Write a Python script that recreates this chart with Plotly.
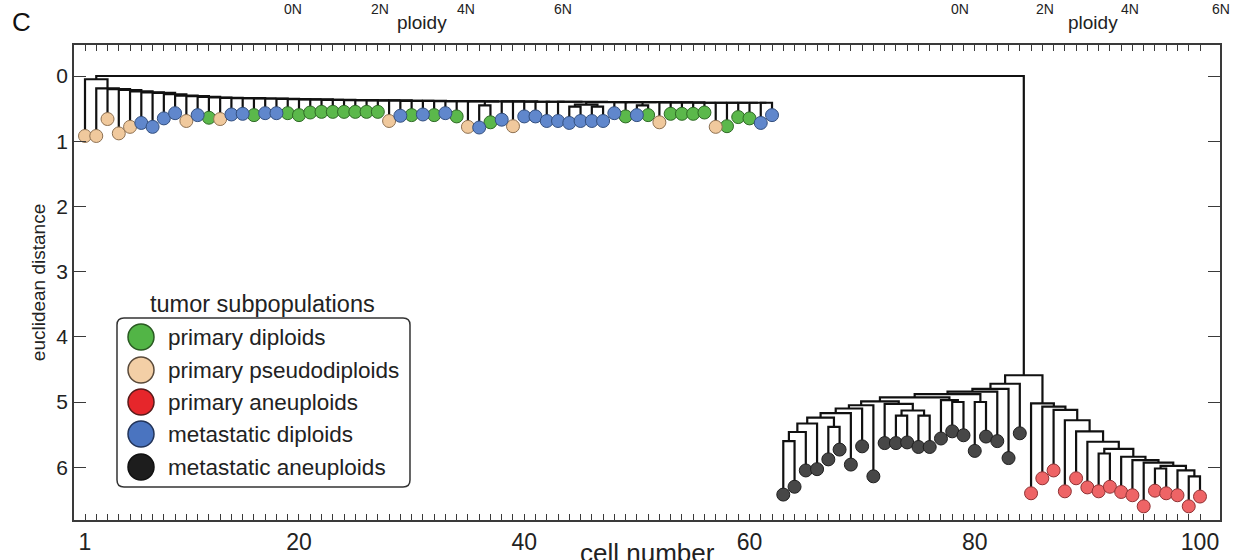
import plotly.graph_objects as go

# ---------------------------------------------------------------- data ----
CELLS = list(range(1, 101))

# height of every leaf (cell) on the euclidean distance axis
LEAF_HEIGHT = [
    0.92, 0.92, 0.66, 0.88, 0.78, 0.72, 0.78, 0.65, 0.57, 0.69,   # 1-10
    0.60, 0.64, 0.66, 0.59, 0.58, 0.60, 0.57, 0.57, 0.57, 0.60,   # 11-20
    0.56, 0.55, 0.55, 0.55, 0.55, 0.55, 0.55, 0.69, 0.61, 0.60,   # 21-30
    0.59, 0.60, 0.57, 0.62, 0.78, 0.79, 0.71, 0.67, 0.77, 0.62,   # 31-40
    0.62, 0.69, 0.69, 0.72, 0.69, 0.69, 0.69, 0.57, 0.62, 0.60,   # 41-50
    0.60, 0.71, 0.58, 0.58, 0.58, 0.56, 0.78, 0.77, 0.63, 0.65,   # 51-60
    0.72, 0.60, 6.42, 6.30, 6.05, 6.03, 5.88, 5.73, 5.96, 5.68,   # 61-70
    6.14, 5.63, 5.63, 5.62, 5.69, 5.69, 5.56, 5.45, 5.51, 5.75,   # 71-80
    5.53, 5.60, 5.86, 5.48, 6.40, 6.17, 6.05, 6.37, 6.17, 6.31,   # 81-90
    6.37, 6.30, 6.38, 6.43, 6.60, 6.36, 6.40, 6.43, 6.60, 6.45,   # 91-100
]

# subpopulation of every cell: g primary diploid, t primary pseudodiploid,
# r primary aneuploid, b metastatic diploid, k metastatic aneuploid
LEAF_GROUP = list(
    "tttttbbbbt" "bgtbbgbbgg" "gggggggtbg" "bgbgtbgbtb" "bbbbbbbbgb"
    "gtggggtggg" "bb" "kkkkkkkkkkkkkkkkkkkkkk" "rrrrrrrrrrrrrrrr"
)

GROUP_KEYS = ["g", "t", "r", "b", "k"]
GROUP_NAMES = ["primary diploids", "primary pseudodiploids", "primary aneuploids",
               "metastatic diploids", "metastatic aneuploids"]
LEAF_FILL = {"g": "#5bb84b", "t": "#f0c99d", "r": "#ee6466", "b": "#6087cc", "k": "#474747"}
LEAF_EDGE = {"g": "#2f6a26", "t": "#8e7152", "r": "#8f3234", "b": "#34507f", "k": "#1f1f1f"}
LEGEND_FILL = {"g": "#52b546", "t": "#f3cfa6", "r": "#e6262b", "b": "#4a74c0", "k": "#1d1d1d"}
LEGEND_EDGE = {"g": "#2a5a22", "t": "#5a4a3a", "r": "#5a1a1a", "b": "#22345a", "k": "#111111"}

# small sub-clusters: (name, left, right, merge height)
SUBCLUSTERS = [
    ("p36", 36, 37, 0.45),
    ("p44", 44, 45, 0.47),
    ("p46", 46, 47, 0.47),
    ("q44", "p44", "p46", 0.44),
    ("p50", 50, 51, 0.45),
    ("p91", 91, 92, 5.79),
    ("p96", 96, 97, 6.02),
    ("p67", 67, 68, 5.38),
    ("s73", 73, 74, 5.21),
    ("s75", 75, 76, 5.21),
    ("r73", "s73", "s75", 5.13),
    ("m72", 72, "r73", 5.03),
    ("p78", 78, 79, 5.00),
    ("q77", 77, "p78", 4.97),
    ("p80", 80, 81, 5.00),
]

# diploid branch: each member joins everything to its right
DIPLOID_MEMBERS = list(range(1, 36)) + ["p36", 38, 39, 40, 41, 42, 43, "q44", 48, 49, "p50"] \
    + list(range(52, 63))
DIPLOID_HEIGHTS = [
    0.05, 0.19, 0.20, 0.215, 0.235, 0.25, 0.26, 0.28, 0.30, 0.31,
    0.32, 0.33, 0.335, 0.34, 0.34, 0.345, 0.345, 0.35, 0.355, 0.36,
    0.36, 0.365, 0.365, 0.37, 0.37, 0.375, 0.375, 0.375, 0.38, 0.38,
    0.38, 0.385, 0.385, 0.385, 0.39, 0.39, 0.39, 0.39, 0.395, 0.395,
    0.395, 0.395, 0.40, 0.40, 0.40, 0.40, 0.405, 0.405, 0.405, 0.41,
    0.41, 0.41, 0.41, 0.41, 0.41, 0.41,
]

# metastatic aneuploid branch: each member joins everything to its left
META_MEMBERS = [63, 64, 65, 66, "p67", 69, 70, 71, "m72", "q77", "p80", 82, 83, 84]
META_HEIGHTS = [5.60, 5.46, 5.33, 5.24, 5.17, 5.10, 5.05, 4.99, 4.93, 4.88, 4.84, 4.80, 4.72]

# primary aneuploid branch: each member joins everything to its right
PRIMARY_MEMBERS = [85, 86, 87, 88, 89, 90, "p91", 93, 94, 95, "p96", 98, 99, 100]
PRIMARY_HEIGHTS = [5.02, 5.07, 5.12, 5.28, 5.45, 5.61, 5.72, 5.84, 5.89, 5.93, 5.98, 6.05, 6.14]

ANEUPLOID_JOIN = 4.59
ROOT_JOIN = 0.0

X_TICKS = [1, 20, 40, 60, 80, 100]
Y_TICKS = [0, 1, 2, 3, 4, 5, 6]

# ------------------------------------------------------- tree geometry ----
nodes = {}
seg_x, seg_y = [], []


def position(item):
    if isinstance(item, int):
        return float(item), LEAF_HEIGHT[item - 1]
    return nodes[item]


def join(name, a, b, h):
    xa, ya = position(a)
    xb, yb = position(b)
    seg_x.extend([xa, xa, xb, xb, None])
    seg_y.extend([ya, h, h, yb, None])
    nodes[name] = ((xa + xb) / 2.0, h)
    return name


for name, a, b, h in SUBCLUSTERS:
    join(name, a, b, h)


def right_nested(prefix, members, heights):
    cur = members[-1]
    for i in range(len(members) - 2, -1, -1):
        cur = join(f"{prefix}{i}", members[i], cur, heights[i])
    return cur


def left_nested(prefix, members, heights):
    cur = members[0]
    for i in range(1, len(members)):
        cur = join(f"{prefix}{i}", cur, members[i], heights[i - 1])
    return cur


diploid_top = right_nested("d", DIPLOID_MEMBERS, DIPLOID_HEIGHTS)
meta_top = left_nested("m", META_MEMBERS, META_HEIGHTS)
primary_top = right_nested("a", PRIMARY_MEMBERS, PRIMARY_HEIGHTS)
aneu_top = join("aneuploid", meta_top, primary_top, ANEUPLOID_JOIN)
join("root", diploid_top, aneu_top, ROOT_JOIN)

# --------------------------------------------------------------- figure ----
fig = go.Figure()

fig.add_trace(go.Scatter(
    x=seg_x, y=seg_y, mode="lines",
    line=dict(color="#111111", width=2.2),
    hoverinfo="skip", showlegend=False,
))

for key, gname in zip(GROUP_KEYS, GROUP_NAMES):
    xs = [c for c, g in zip(CELLS, LEAF_GROUP) if g == key]
    ys = [LEAF_HEIGHT[c - 1] for c in xs]
    fig.add_trace(go.Scatter(
        x=xs, y=ys, mode="markers", name=gname,
        marker=dict(size=13, color=LEAF_FILL[key],
                    line=dict(color=LEAF_EDGE[key], width=1)),
        showlegend=False,
    ))

# plot-area placement (pixels) used for decorations outside the data
L, R, T, B = 74, 1220, 45, 520
W, H = 1240, 560


def px(xp, yp):
    return (xp - L) / (R - L), (B - yp) / (B - T)


FONT = "Liberation Sans, Arial, sans-serif"
AX = "#3a3a3a"

annotations = []
shapes = []


def label(text, xp, yp, size, xanchor="center", color="#222"):
    tx, ty = px(xp, yp)
    annotations.append(dict(text=text, x=tx, y=ty, xref="paper", yref="paper",
                            showarrow=False, xanchor=xanchor, yanchor="middle",
                            font=dict(family=FONT, size=size, color=color)))


# legend box with rounded corners
lx0, ly0, lx1, ly1, rad = 117, 318, 410, 487, 7


def P(xp, yp):
    a, b = px(xp, yp)
    return f"{a:.5f},{b:.5f}"


path = (f"M {P(lx0 + rad, ly0)} L {P(lx1 - rad, ly0)} Q {P(lx1, ly0)} {P(lx1, ly0 + rad)} "
        f"L {P(lx1, ly1 - rad)} Q {P(lx1, ly1)} {P(lx1 - rad, ly1)} "
        f"L {P(lx0 + rad, ly1)} Q {P(lx0, ly1)} {P(lx0, ly1 - rad)} "
        f"L {P(lx0, ly0 + rad)} Q {P(lx0, ly0)} {P(lx0 + rad, ly0)} Z")
shapes.append(dict(type="path", xref="paper", yref="paper", path=path,
                   line=dict(color="#333333", width=1.5), fillcolor="white", layer="above"))

label("tumor subpopulations", 262, 304, 23.5)
item_y = [337, 370, 402, 434, 467]
for key, gname, iy in zip(GROUP_KEYS, GROUP_NAMES, item_y):
    cx, cy = px(141, iy)
    shapes.append(dict(type="circle", xref="paper", yref="paper",
                       xsizemode="pixel", ysizemode="pixel", xanchor=cx, yanchor=cy,
                       x0=-13, x1=13, y0=-13, y1=13,
                       fillcolor=LEGEND_FILL[key], line=dict(color=LEGEND_EDGE[key], width=1.5),
                       layer="above"))
    label(gname, 166, iy, 22.5, xanchor="left")

# panel letter and the ploidy scales of the panel above
label("C", 21, 22, 26, color="#111")
for labels_x, ploidy_x in (([293, 380, 466, 563], 422), ([960, 1045, 1130, 1221], 1093)):
    for lab, xp in zip(["0N", "2N", "4N", "6N"], labels_x):
        label(lab, xp, 9, 14)
    label("ploidy", ploidy_x, 23, 19)

label("cell number", 647, 553, 26)

x_lo = 1 - (85 - L) / 11.263
x_hi = 100 + (R - 1200) / 11.263
y_unit = 65.2
y_top = -(76 - T) / y_unit
y_bot = (B - 76) / y_unit

fig.update_layout(
    width=W, height=H,
    margin=dict(l=L, r=W - R, t=T, b=H - B, autoexpand=False),
    paper_bgcolor="white", plot_bgcolor="white",
    showlegend=False,
    font=dict(family=FONT, color="#222"),
    shapes=shapes, annotations=annotations,
    xaxis=dict(
        range=[x_lo, x_hi], automargin=False,
        tickmode="array", tickvals=CELLS,
        ticktext=[str(c) if c in X_TICKS else "" for c in CELLS],
        ticks="inside", ticklen=6, tickwidth=1, tickcolor=AX,
        showline=True, linecolor=AX, linewidth=1.5, mirror="ticks",
        showgrid=False, zeroline=False,
        tickfont=dict(family=FONT, size=23, color="#222"),
        ticklabelstandoff=1,
    ),
    yaxis=dict(
        range=[y_bot, y_top], automargin=False,
        tickmode="array", tickvals=Y_TICKS,
        ticks="inside", ticklen=12, tickwidth=1, tickcolor=AX,
        showline=True, linecolor=AX, linewidth=1.5, mirror="ticks",
        showgrid=False, zeroline=False,
        tickfont=dict(family=FONT, size=21, color="#222"),
        ticklabelstandoff=0,
        title=dict(text="euclidean distance", standoff=6,
                   font=dict(family=FONT, size=19, color="#222")),
    ),
)

fig.write_html("out.html")
